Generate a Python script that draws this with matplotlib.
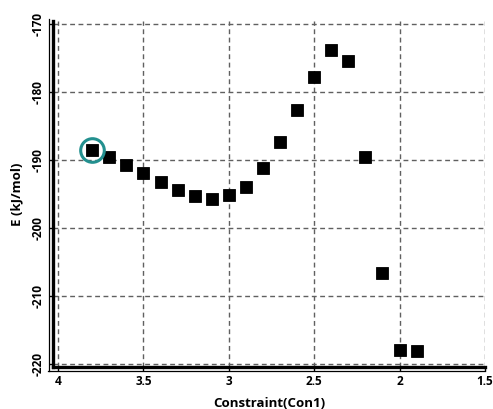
#!/usr/bin/env python3
"""Energy scan along a constraint coordinate, rendered to out.png."""

import matplotlib

matplotlib.use("Agg")
import matplotlib.pyplot as plt
from matplotlib.transforms import offset_copy

constraint = [3.8, 3.7, 3.6, 3.5, 3.4, 3.3, 3.2, 3.1, 3.0, 2.9,
              2.8, 2.7, 2.6, 2.5, 2.4, 2.3, 2.2, 2.1, 2.0, 1.9]
energy = [-188.5, -189.6, -190.8, -192.0, -193.3, -194.5, -195.3, -195.7, -195.2, -194.0,
          -191.2, -187.4, -182.7, -177.8, -173.9, -175.5, -189.6, -206.6, -217.9, -218.1]
highlight = 0  # index of the circled point

x_ticks = [4, 3.5, 3, 2.5, 2, 1.5]
x_tick_labels = ["4", "3.5", "3", "2.5", "2", "1.5"]
y_ticks = [-220, -210, -200, -190, -180, -170]

plt.rcParams["font.family"] = ["Open Sans", "DejaVu Sans"]
plt.rcParams["font.weight"] = "bold"
plt.rcParams["axes.unicode_minus"] = False

fig = plt.figure(figsize=(4.93, 4.09), dpi=100)
ax = fig.add_axes([0.1075, 0.1027, 0.877, 0.846])

ax.plot(constraint, energy, linestyle="none", marker="s", markersize=8.4,
        markerfacecolor="black", markeredgecolor="black", markeredgewidth=0.6, zorder=3)
ax.plot(constraint[highlight], energy[highlight], marker="o", markersize=17,
        markerfacecolor="none", markeredgecolor="#23908f", markeredgewidth=2.2, zorder=4)

ax.set_xlim(4.03, 1.497)
ax.set_ylim(-220.45, -169.6)
ax.set_xticks(x_ticks)
ax.set_xticklabels(x_tick_labels)
ax.set_yticks(y_ticks)
for lbl in ax.get_yticklabels():
    lbl.set_rotation(90)
    lbl.set_va("center")

ax.tick_params(axis="both", labelsize=8.5, length=3, width=1, pad=3)
ax.grid(True, linestyle=(0, (3.5, 2.5)), linewidth=1, color="#606060")

for side in ("top", "right"):
    ax.spines[side].set_visible(False)
for side in ("left", "bottom"):
    ax.spines[side].set_linewidth(2.4)

# thin second rule beside the thick axis lines
left_tr = offset_copy(ax.transAxes, fig=fig, x=-4, y=0, units="dots")
ax.plot([0, 0], [-0.012, 1.005], transform=left_tr, color="black", lw=0.9, clip_on=False)
bottom_tr = offset_copy(ax.transAxes, fig=fig, x=0, y=-4, units="dots")
ax.plot([-0.012, 1.0], [0, 0], transform=bottom_tr, color="black", lw=0.9, clip_on=False)

ax.set_xlabel("Constraint(Con1)", fontsize=9.5, fontweight="bold", labelpad=6)
ax.set_ylabel("E (kJ/mol)", fontsize=9.5, fontweight="bold", labelpad=6)

fig.savefig("out.png", dpi=100)
